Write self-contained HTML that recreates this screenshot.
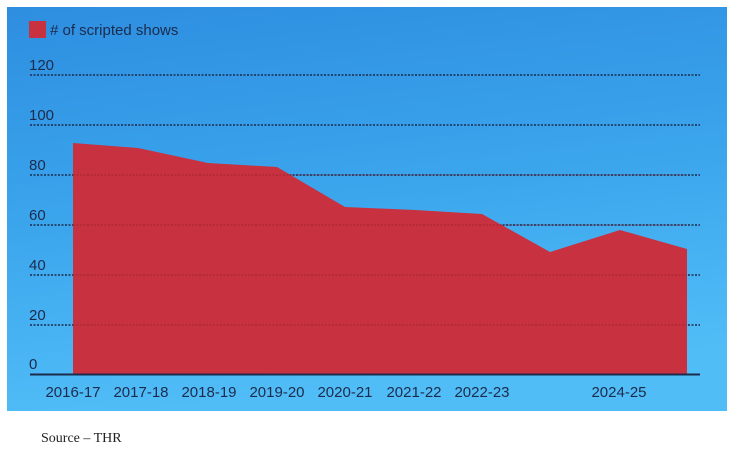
<!DOCTYPE html>
<html><head><style>
body{margin:0;width:733px;height:455px;background:#fff;overflow:hidden;position:relative}
.src{position:absolute;left:41px;top:431px;font:14px "Liberation Serif",serif;color:#222}
</style></head><body>
<svg width="733" height="455" style="position:absolute;left:0;top:0">
<defs><linearGradient id="g" x1="0" y1="0" x2="0.2" y2="1">
<stop offset="0" stop-color="#2e8ee0"/><stop offset="0.5" stop-color="#3aa4ec"/><stop offset="1" stop-color="#50bdf7"/></linearGradient></defs>
<rect x="7" y="7" width="720" height="404" fill="url(#g)"/>
<g stroke="#1c2b4c" stroke-width="1.5" stroke-dasharray="2,1.5">
<line x1="30" y1="75" x2="700" y2="75"/><line x1="30" y1="125" x2="700" y2="125"/>
<line x1="30" y1="175" x2="700" y2="175"/><line x1="30" y1="225" x2="700" y2="225"/>
<line x1="30" y1="275" x2="700" y2="275"/><line x1="30" y1="325" x2="700" y2="325"/>
</g>
<polygon fill="#c8313f" points="73,374 73,143 138,148 208,163 277,167 345,207 415,210 482,214 550,252 620,230 687,249 687,374"/>
<g stroke="#8a1f2c" stroke-width="1.2" stroke-dasharray="2,1.5" opacity="0.5">
<line x1="73" y1="175" x2="687" y2="175"/><line x1="73" y1="225" x2="687" y2="225"/>
<line x1="73" y1="275" x2="687" y2="275"/><line x1="73" y1="325" x2="687" y2="325"/>
</g>
<line x1="30" y1="374.5" x2="700" y2="374.5" stroke="#1c2b4c" stroke-width="2"/>
<rect x="29" y="21" width="17" height="17" fill="#c8313f"/>
<g font-family="Liberation Sans,sans-serif" fill="#1c2b4c" font-size="15">
<text x="50" y="35">#&#160;of scripted shows</text>
<text x="29" y="70">120</text><text x="29" y="120">100</text><text x="29" y="170">80</text>
<text x="29" y="220">60</text><text x="29" y="270">40</text><text x="29" y="320">20</text><text x="29" y="369">0</text>
<g text-anchor="middle"><text x="73" y="397">2016-17</text><text x="141" y="397">2017-18</text><text x="209" y="397">2018-19</text>
<text x="277" y="397">2019-20</text><text x="345" y="397">2020-21</text><text x="414" y="397">2021-22</text>
<text x="482" y="397">2022-23</text><text x="619" y="397">2024-25</text></g>
</g>
</svg>
<div class="src">Source – THR</div>
</body></html>
